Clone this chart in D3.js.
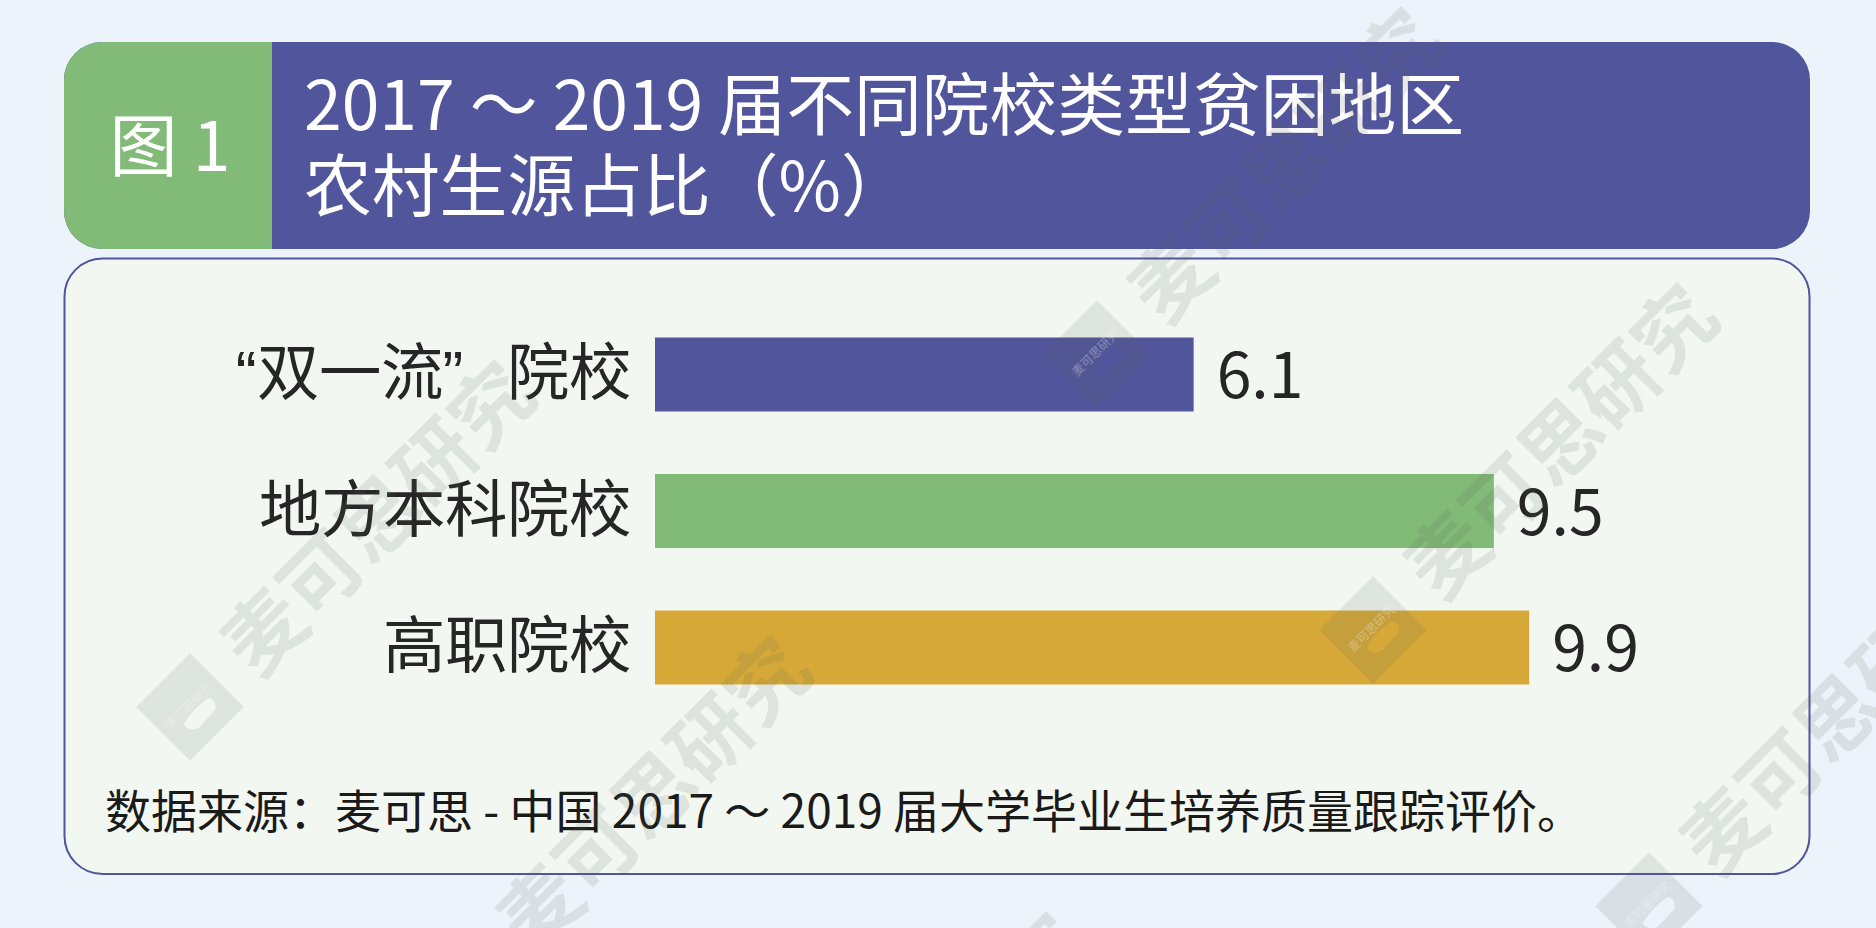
<!DOCTYPE html>
<html lang="zh-CN">
<head>
<meta charset="utf-8">
<script src="https://d3js.org/d3.v7.min.js"></script>
<style>
    html, body { margin: 0; padding: 0; background: #ecf3fa; overflow: hidden; }
    svg { display: block; font-family: "Noto Sans CJK SC", "Noto Sans", sans-serif; }
    .domain { display: none; }
</style>
</head>
<body>
<svg id="chart"></svg>
<script>
const categories = ["“双一流”\u2002\u2009院校", "地方本科院校", "高职院校"];
const values = [6.1, 9.5, 9.9];
const barColors = ["#51559c", "#82ba78", "#d5a838"];
const titleLines = ["2017 ～ 2019 届不同院校类型贫困地区", "农村生源占比（%）"];
const figureLabel = "图 1";
const sourceNote = "数据来源：麦可思 - 中国 2017 ～ 2019 届大学毕业生培养质量跟踪评价。";
const watermarkText = "麦可思研究";

const width = 1876, height = 928;
const svg = d3.select("#chart").attr("width", width).attr("height", height);

// Background
svg.append("rect").attr("width", width).attr("height", height).attr("fill", "#ecf3fa");

// Header: purple block, with the green left end clipped to the same rounded shape
const defs = svg.append("defs");
defs.append("clipPath").attr("id", "head-clip")
    .append("rect")
    .attr("x", 64).attr("y", 42)
    .attr("width", 1746).attr("height", 207)
    .attr("rx", 38).attr("ry", 38);

const head = svg.append("g").attr("clip-path", "url(#head-clip)");
head.append("rect").attr("x", 64).attr("y", 42).attr("width", 1746).attr("height", 207).attr("fill", "#51559c");
head.append("rect").attr("x", 64).attr("y", 42).attr("width", 208).attr("height", 207).attr("fill", "#82ba78");

svg.append("text")
   .attr("x", 170).attr("y", 171)
   .attr("text-anchor", "middle")
   .attr("font-size", 68)
   .attr("fill", "#fff")
   .text(figureLabel);

svg.selectAll(".title-line")
   .data(titleLines)
   .enter()
   .append("text")
   .attr("class", "title-line")
   .attr("x", 304)
   .attr("y", (d, i) => 130 + i * 81)
   .attr("font-size", 67.8)
   .attr("fill", "#fff")
   .text(d => d);

// Panel
svg.append("rect")
   .attr("x", 64.5).attr("y", 258.5)
   .attr("width", 1745).attr("height", 615.5)
   .attr("rx", 38).attr("ry", 38)
   .attr("fill", "#f2f7f2")
   .attr("stroke", "#51559c")
   .attr("stroke-width", 2);

// Bars
const x = d3.scaleLinear().domain([0, 10]).range([655, 1538]);
const y = d3.scaleBand().domain(categories).range([337.5, 684.5]).paddingInner(0.458).paddingOuter(0);

svg.selectAll(".bar")
   .data(categories)
   .enter()
   .append("rect")
   .attr("class", "bar")
   .attr("x", x(0))
   .attr("y", d => y(d))
   .attr("width", (d, i) => x(values[i]) - x(0))
   .attr("height", y.bandwidth())
   .attr("fill", (d, i) => barColors[i]);

const axis = svg.append("g")
   .attr("transform", `translate(${x(0)},1)`)
   .call(d3.axisLeft(y).tickSize(0).tickPadding(24));
axis.selectAll("text")
   .attr("font-size", 62.4)
   .attr("font-family", "inherit")
   .attr("fill", "#262626");

svg.selectAll(".value-label")
   .data(categories)
   .enter()
   .append("text")
   .attr("class", "value-label")
   .attr("x", (d, i) => x(values[i]) + 23)
   .attr("y", d => y(d) + y.bandwidth() / 2 + 1)
   .attr("dy", "0.36em")
   .attr("font-size", 62.5)
   .attr("fill", "#262626")
   .text((d, i) => values[i].toFixed(1));

// Source note
svg.append("text")
   .attr("x", 105).attr("y", 828)
   .attr("font-size", 46)
   .attr("fill", "#1a1a1a")
   .text(sourceNote);

// Watermarks sit on top of everything
const rowStarts = [[190, 707], [1097, 354]];
const stamps = [];
rowStarts.forEach(start => {
    d3.range(3).forEach(i => stamps.push([start[0] + i * 276, start[1] + i * 276]));
});

const stamp = svg.selectAll(".stamp")
   .data(stamps)
   .enter()
   .append("g")
   .attr("class", "stamp")
   .attr("transform", d => `translate(${d[0]},${d[1]}) rotate(-45)`);

// Logo square with the pale blob cut out of it
stamp.append("path")
   .attr("d", "M-38,-38H38V38H-38Z M-17,8Q0,3 20,7Q24,14 16,20L-8,21Q-18,18 -17,8Z")
   .attr("fill-rule", "evenodd")
   .attr("fill", "#5b6659")
   .attr("opacity", 0.13);

stamp.append("text")
   .attr("x", 0).attr("y", 2)
   .attr("text-anchor", "middle")
   .attr("font-size", 12)
   .attr("fill", "#fff")
   .attr("opacity", 0.3)
   .text(watermarkText);

stamp.append("text")
   .attr("x", 66).attr("y", 29)
   .attr("font-size", 80)
   .attr("font-weight", 700)
   .attr("fill", "#5b6659")
   .attr("opacity", 0.13)
   .text(watermarkText);
</script>
</body>
</html>
